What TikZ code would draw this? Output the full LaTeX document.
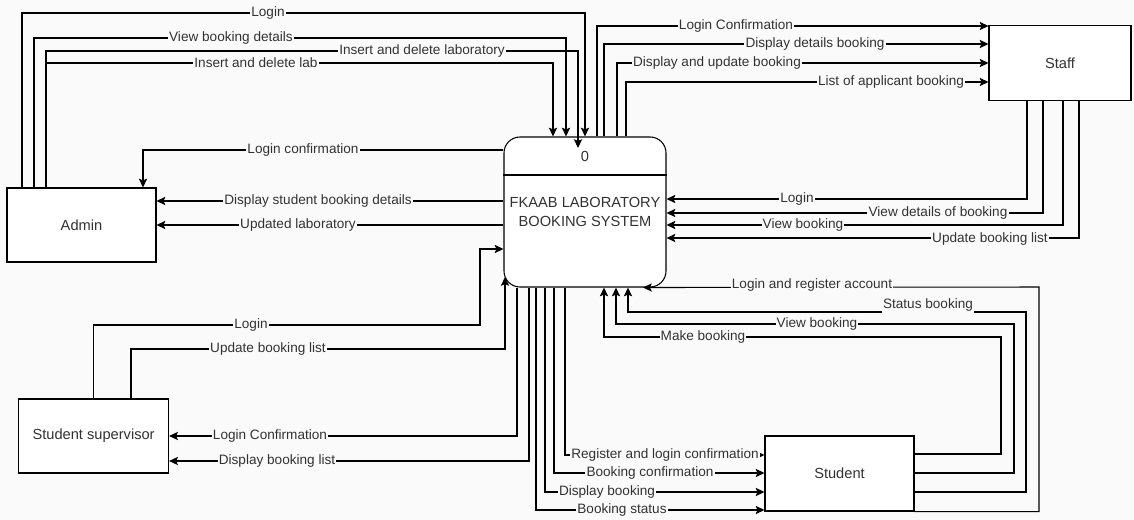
\documentclass[tikz,border=0pt]{standalone}
\usepackage{fontspec}
\setmainfont{Liberation Sans}
\usetikzlibrary{arrows.meta}
\definecolor{bgc}{RGB}{250,250,250}
\definecolor{ink}{RGB}{50,50,50}

\begin{document}
\begin{tikzpicture}[x=0.3mm,y=-0.3mm,line width=0.9pt,
	entity/.style={draw,fill=white,inner sep=0pt,text=ink,font=\fontsize{12.5}{15}\selectfont},
	process/.style={draw,fill=white,rounded corners=4.8mm,minimum width=48.6mm,minimum height=45mm},
	flow/.style={draw=black,-{Stealth[length=7.5pt,width=7pt,inset=1.5pt]}},
	lbl/.style={fill=bgc,inner sep=1pt,text=ink,font=\fontsize{11.6}{13}\selectfont}]
\fill[bgc] (0,0) rectangle (1134,520);
\useasboundingbox (0,0) rectangle (1134,520);

% external entities and the process
\node[entity,minimum width=44.7mm,minimum height=22.2mm] (admin) at (81.5,225) {Admin};
\node[entity,minimum width=42.6mm,minimum height=22.5mm] (staff) at (1060,63) {Staff};
\node[entity,minimum width=45mm,minimum height=22.2mm] (sup) at (93.6,436) {Student supervisor};
\node[entity,minimum width=44.7mm,minimum height=22.5mm] (student) at (839.5,473.5) {Student};
\node[process] (sys) at (585,212) {};
\draw (sys.west |- 0,175) -- (sys.east |- 0,175);
\node[text=ink,font=\fontsize{12.5}{15}\selectfont] (num) at (585,156) {0};
\node[text=ink,align=center,font=\fontsize{12.5}{15.5}\selectfont] (title) at (585,212) {FKAAB LABORATORY\\BOOKING SYSTEM};
\coordinate (inlab) at (578,148);
\coordinate (supin) at (505,277);

% admin
\draw[flow] (22,0 |- admin.north) -- (22,13) -- (585,13) -- (585,0 |- sys.north) node[lbl] at (268,13) {Login};
\draw[flow] (34,0 |- admin.north) -- (34,38) -- (566,38) -- (566,0 |- sys.north) node[lbl] at (231,38) {View booking details};
\draw[flow] (46,0 |- admin.north) -- (46,51) -- (578,51) -- (inlab) node[lbl] at (422,51) {Insert and delete laboratory};
\draw[flow] (46,0 |- admin.north) -- (46,63) -- (553,63) -- (553,0 |- sys.north) node[lbl] at (256,63) {Insert and delete lab};
\draw[flow] (sys.west |- 0,150) -- (143,150) -- (143,0 |- admin.north) node[lbl] at (303,150) {Login confirmation};
\draw[flow] (sys.west |- 0,201) -- (admin.east |- 0,201) node[lbl] at (318,201) {Display student booking details};
\draw[flow] (sys.west |- 0,225) -- (admin.east |- 0,225) node[lbl] at (298,225) {Updated laboratory};

% staff
\draw[flow] (597,0 |- sys.north) -- (597,26) -- (staff.west |- 0,26) node[lbl] at (736,26) {Login Confirmation};
\draw[flow] (604,0 |- sys.north) -- (604,44) -- (staff.west |- 0,44) node[lbl] at (815,44) {Display details booking};
\draw[flow] (617,0 |- sys.north) -- (617,63) -- (staff.west |- 0,63) node[lbl] at (717,63) {Display and update booking};
\draw[flow] (626,0 |- sys.north) -- (626,82) -- (staff.west |- 0,82) node[lbl] at (891,82) {List of applicant booking};
\draw[flow] (1027,0 |- staff.south) -- (1027,199) -- (sys.east |- 0,199) node[lbl] at (797,199) {Login};
\draw[flow] (1043,0 |- staff.south) -- (1043,213) -- (sys.east |- 0,213) node[lbl] at (938,213) {View details of booking};
\draw[flow] (1063,0 |- staff.south) -- (1063,225) -- (sys.east |- 0,225) node[lbl] at (803,225) {View booking};
\draw[flow] (1079,0 |- staff.south) -- (1079,238) -- (sys.east |- 0,238) node[lbl] at (990,239) {Update booking list};

% student supervisor
\draw[flow] (sup.north) -- (93.6,325) -- (480,325) -- (480,249) -- (sys.west |- 0,249) node[lbl] at (251,325) {Login};
\draw[flow] (131,0 |- sup.north) -- (131,349) -- (505,349) -- (supin) node[lbl] at (268,349) {Update booking list};
\draw[flow] (517,0 |- sys.south) -- (517,436) -- (sup.east) node[lbl] at (270,436) {Login Confirmation};
\draw[flow] (529,0 |- sys.south) -- (529,461) -- (sup.east |- 0,461) node[lbl] at (277,461) {Display booking list};

% student
\draw[flow] (565,0 |- sys.south) -- (565,455) -- (student.west |- 0,455) node[lbl] at (665,455) {Register and login confirmation};
\draw[flow] (554,0 |- sys.south) -- (554,473) -- (student.west |- 0,473) node[lbl] at (650,473) {Booking confirmation};
\draw[flow] (545,0 |- sys.south) -- (545,492) -- (student.west |- 0,492) node[lbl] at (607,492) {Display booking};
\draw[flow] (536,0 |- sys.south) -- (536,510) -- (student.west |- 0,510) node[lbl] at (622,510) {Booking status};
\draw[flow] (student.east |- 0,454) -- (1001,454) -- (1001,337) -- (604,337) -- (604,0 |- sys.south) node[lbl] at (703,337) {Make booking};
\draw[flow] (student.east |- 0,473) -- (1014,473) -- (1014,324) -- (616,324) -- (616,0 |- sys.south) node[lbl] at (817,324) {View booking};
\draw[flow] (student.east |- 0,492) -- (1026,492) -- (1026,312) -- (628,312) -- (628,0 |- sys.south) node[lbl] at (928,305) {Status booking};
\draw[flow] (student.south east) -- (1039,0 |- student.south east) -- (1039,287) -- (643,0 |- sys.south) node[lbl] at (812,285) {Login and register account};
\end{tikzpicture}
\end{document}
